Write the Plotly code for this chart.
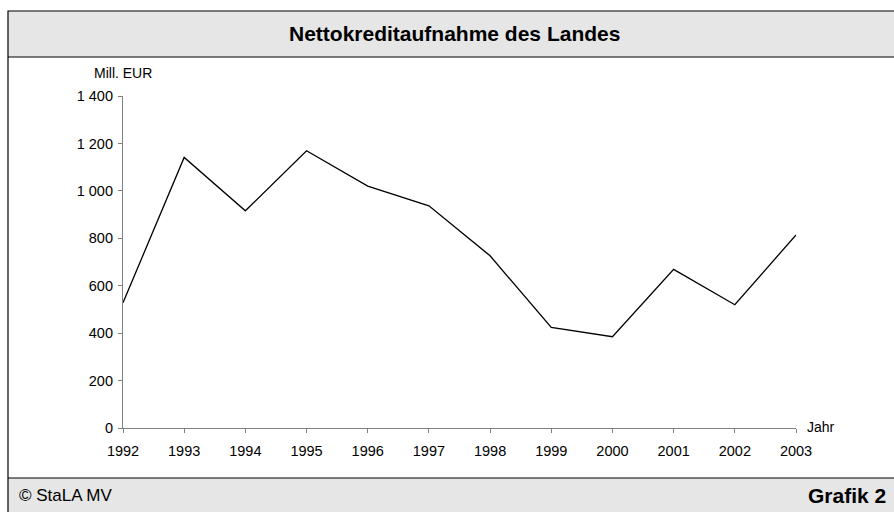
import plotly.graph_objects as go

years = [1992, 1993, 1994, 1995, 1996, 1997, 1998, 1999, 2000, 2001, 2002, 2003]
values = [528, 1141, 916, 1169, 1020, 937, 726, 424, 385, 669, 520, 814]
y_tickvals = [0, 200, 400, 600, 800, 1000, 1200, 1400]
y_ticktext = ["0", "200", "400", "600", "800", "1 000", "1 200", "1 400"]

W, H = 894, 512
L, R, T, B = 123, 796, 96, 428

def px(x):
    return (x - L) / (R - L)

def py(y):
    return (B - y) / (B - T)

FONT = "Liberation Sans, Arial, sans-serif"

fig = go.Figure()
fig.add_trace(go.Scatter(x=years, y=values, mode="lines",
                         line=dict(color="black", width=1.3), hoverinfo="skip"))

shapes = [
    dict(type="rect", xref="paper", yref="paper", x0=px(8), x1=px(910), y0=py(57), y1=py(11),
         fillcolor="#e6e6e6", line=dict(width=0), layer="below"),
    dict(type="rect", xref="paper", yref="paper", x0=px(8), x1=px(910), y0=py(530), y1=py(478),
         fillcolor="#e6e6e6", line=dict(width=0), layer="below"),
    dict(type="rect", xref="paper", yref="paper", x0=px(8), x1=px(910), y0=py(530), y1=py(11),
         fillcolor="rgba(0,0,0,0)", line=dict(color="black", width=1.2)),
    dict(type="line", xref="paper", yref="paper", x0=px(8), x1=px(910), y0=py(57), y1=py(57),
         line=dict(color="black", width=1.2)),
    dict(type="line", xref="paper", yref="paper", x0=px(8), x1=px(910), y0=py(478), y1=py(478),
         line=dict(color="black", width=1.2)),
]

annotations = [
    dict(text="<b>Nettokreditaufnahme des Landes</b>", xref="paper", yref="paper",
         x=px(454), y=py(34), showarrow=False, font=dict(size=21, color="black", family=FONT),
         xanchor="center", yanchor="middle"),
    dict(text="Mill. EUR", xref="paper", yref="paper", x=px(92), y=py(73), showarrow=False,
         font=dict(size=14, color="black", family=FONT), xanchor="left", yanchor="middle"),
    dict(text="Jahr", xref="paper", yref="paper", x=px(805), y=py(427), showarrow=False,
         font=dict(size=14, color="black", family=FONT), xanchor="left", yanchor="middle"),
    dict(text="© StaLA MV", xref="paper", yref="paper", x=px(17), y=py(496), showarrow=False,
         font=dict(size=17, color="black", family=FONT), xanchor="left", yanchor="middle"),
    dict(text="<b>Grafik 2</b>", xref="paper", yref="paper", x=px(888), y=py(496), showarrow=False,
         font=dict(size=21, color="black", family=FONT), xanchor="right", yanchor="middle"),
]

fig.update_layout(
    width=W, height=H,
    margin=dict(l=L, r=W - R, t=T, b=H - B, pad=0),
    paper_bgcolor="white", plot_bgcolor="white",
    showlegend=False,
    shapes=shapes, annotations=annotations,
    font=dict(family=FONT, size=14, color="black"),
    xaxis=dict(range=[1992, 2003], tickvals=years, ticktext=[str(y) for y in years],
               showgrid=False, zeroline=False, showline=True, linecolor="#808080", linewidth=1.2,
               ticks="outside", ticklen=4, tickcolor="#808080", tickfont=dict(size=14.5),
               ticklabelstandoff=5, fixedrange=True),
    yaxis=dict(range=[0, 1400], tickvals=y_tickvals, ticktext=y_ticktext,
               showgrid=False, zeroline=False, showline=True, linecolor="#808080", linewidth=1.2,
               ticks="outside", ticklen=4, tickcolor="#808080", tickfont=dict(size=14.5),
               ticklabelstandoff=2, fixedrange=True),
)

fig.write_html("out.html", config=dict(displayModeBar=False),
               post_script="document.body.style.margin='0';document.body.style.overflow='hidden';")
